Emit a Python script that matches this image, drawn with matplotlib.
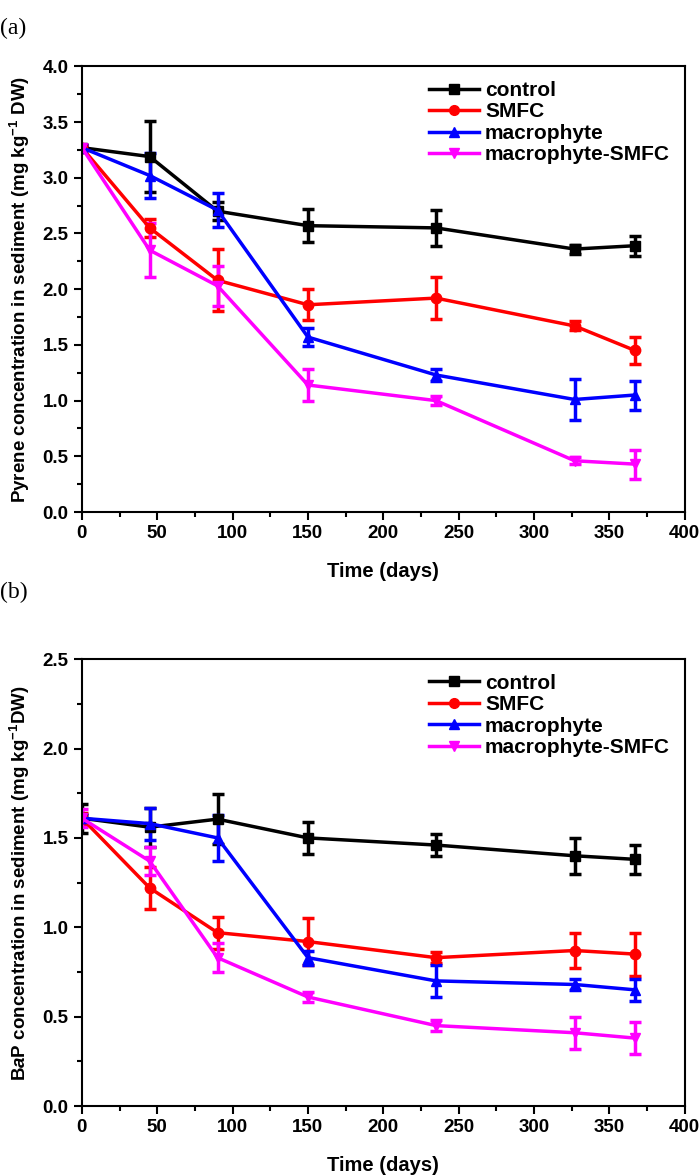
import matplotlib
matplotlib.use("Agg")
import matplotlib.pyplot as plt
from matplotlib.ticker import MultipleLocator
from matplotlib.lines import Line2D

days = [0, 45, 90, 150, 235, 327, 367]
series_names = ["control", "SMFC", "macrophyte", "macrophyte-SMFC"]
colors = ["black", "#ff0000", "#0000ff", "#ff00ff"]
markers = ["s", "o", "^", "v"]

# (a) Pyrene
pyr_control = [3.27, 3.19, 2.70, 2.57, 2.55, 2.36, 2.39]
pyr_control_err = [0.02, 0.32, 0.08, 0.15, 0.16, 0.04, 0.09]
pyr_smfc = [3.27, 2.55, 2.08, 1.86, 1.92, 1.67, 1.45]
pyr_smfc_err = [0.02, 0.08, 0.28, 0.14, 0.19, 0.04, 0.12]
pyr_macro = [3.27, 3.02, 2.71, 1.57, 1.23, 1.01, 1.05]
pyr_macro_err = [0.02, 0.20, 0.15, 0.08, 0.05, 0.18, 0.13]
pyr_msmfc = [3.27, 2.35, 2.03, 1.14, 1.00, 0.46, 0.43]
pyr_msmfc_err = [0.02, 0.24, 0.18, 0.14, 0.04, 0.03, 0.13]

# (b) BaP
bap_control = [1.61, 1.56, 1.605, 1.50, 1.46, 1.40, 1.38]
bap_control_err = [0.08, 0.11, 0.14, 0.09, 0.06, 0.10, 0.08]
bap_smfc = [1.61, 1.22, 0.97, 0.92, 0.83, 0.87, 0.85]
bap_smfc_err = [0.03, 0.12, 0.09, 0.13, 0.03, 0.10, 0.12]
bap_macro = [1.61, 1.58, 1.50, 0.83, 0.70, 0.68, 0.65]
bap_macro_err = [0.02, 0.09, 0.13, 0.04, 0.09, 0.03, 0.06]
bap_msmfc = [1.61, 1.37, 0.83, 0.61, 0.45, 0.41, 0.38]
bap_msmfc_err = [0.05, 0.08, 0.08, 0.03, 0.03, 0.09, 0.09]

sans = ["Liberation Sans", "DejaVu Sans"]
plt.rcParams["font.family"] = sans
plt.rcParams["font.weight"] = "bold"
plt.rcParams["mathtext.fontset"] = "custom"
plt.rcParams["mathtext.rm"] = "Liberation Sans:bold"
plt.rcParams["mathtext.it"] = "Liberation Sans:bold:italic"
plt.rcParams["mathtext.bf"] = "Liberation Sans:bold"

fig = plt.figure(figsize=(7, 11.76), dpi=100)
ax1 = fig.add_axes([0.117, 0.5646, 0.861, 0.379])
ax2 = fig.add_axes([0.117, 0.0595, 0.861, 0.380])

def draw(ax, vals, errs, ymax, ylabel):
    handles = []
    for name, v, e, c, m in zip(series_names, vals, errs, colors, markers):
        ax.errorbar(days, v, yerr=e, color=c, marker=m, markersize=7.5, lw=2.5,
                    elinewidth=2.5, capsize=4.5, capthick=2.5)
        handles.append(Line2D([], [], color=c, marker=m, markersize=7, lw=2.5, label=name))
    ax.set_xlim(0, 400)
    ax.set_ylim(0, ymax)
    ax.xaxis.set_major_locator(MultipleLocator(50))
    ax.xaxis.set_minor_locator(MultipleLocator(25))
    ax.yaxis.set_major_locator(MultipleLocator(0.5))
    ax.yaxis.set_minor_locator(MultipleLocator(0.25))
    ax.yaxis.set_major_formatter(plt.FormatStrFormatter("%.1f"))
    ax.tick_params(which="major", length=6, width=1.5, labelsize=13.5, direction="out")
    ax.tick_params(which="minor", length=3.5, width=1.5, direction="out")
    for lab in ax.get_xticklabels() + ax.get_yticklabels():
        lab.set_fontweight("bold")
    for s in ax.spines.values():
        s.set_linewidth(1.5)
    ax.set_xlabel("Time (days)", fontsize=14.5, fontweight="bold", labelpad=14)
    ax.set_ylabel(ylabel, fontsize=13.5, fontweight="bold", labelpad=8)
    ax.legend(handles=handles, loc="upper right", frameon=False,
              handlelength=2.4, handletextpad=0.3, labelspacing=0.12,
              borderaxespad=0.3,
              prop={"family": sans, "weight": "bold", "size": 15})

draw(ax1, [pyr_control, pyr_smfc, pyr_macro, pyr_msmfc],
     [pyr_control_err, pyr_smfc_err, pyr_macro_err, pyr_msmfc_err],
     4.0, r"Pyrene concentration in sediment (mg kg$^{-1}$ DW)")
draw(ax2, [bap_control, bap_smfc, bap_macro, bap_msmfc],
     [bap_control_err, bap_smfc_err, bap_macro_err, bap_msmfc_err],
     2.5, r"B$\it{a}$P concentration in sediment (mg kg$^{-1}$DW)")

fig.text(0.0, 0.985, "(a)", fontsize=17, family=["Liberation Serif", "DejaVu Serif"],
         fontweight="normal", va="top")
fig.text(0.0, 0.505, "(b)", fontsize=17, family=["Liberation Serif", "DejaVu Serif"],
         fontweight="normal", va="top")

fig.savefig("out.png", dpi=100)
